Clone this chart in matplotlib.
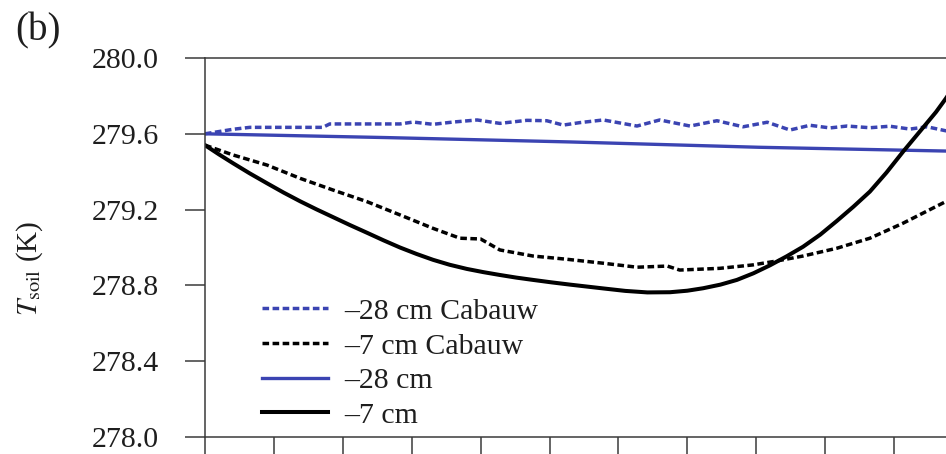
import matplotlib
matplotlib.use("Agg")
import matplotlib.pyplot as plt

# Soil temperature at two depths: model vs. Cabauw observations
x_obs28 = [0.0, 0.41, 0.65, 1.0, 1.71, 1.81, 2.3, 2.83, 3.02, 3.31, 3.60, 3.95,
           4.28, 4.67, 4.96, 5.20, 5.44, 5.78, 6.27, 6.60, 7.04, 7.43, 7.81,
           8.16, 8.49, 8.78, 9.07, 9.32, 9.65, 9.94, 10.23, 10.48, 10.75, 11.0]
t_obs28 = [279.600, 279.624, 279.634, 279.634, 279.634, 279.652, 279.652,
           279.652, 279.662, 279.650, 279.662, 279.673, 279.655, 279.671,
           279.669, 279.646, 279.659, 279.673, 279.641, 279.673, 279.641,
           279.669, 279.637, 279.661, 279.620, 279.645, 279.631, 279.641,
           279.632, 279.640, 279.625, 279.637, 279.616, 279.620]

x_obs7 = [0.0, 0.41, 0.90, 1.38, 1.86, 2.35, 2.83, 3.31, 3.70, 4.00, 4.28,
          4.76, 5.25, 5.78, 6.27, 6.71, 6.89, 7.47, 7.95, 8.30, 8.68, 9.17,
          9.65, 10.13, 10.75, 11.0]
t_obs7 = [279.540, 279.488, 279.435, 279.365, 279.303, 279.242, 279.172,
          279.101, 279.049, 279.045, 278.987, 278.955, 278.938, 278.917,
          278.896, 278.902, 278.881, 278.890, 278.908, 278.929, 278.955,
          278.996, 279.049, 279.128, 279.242, 279.300]

x_mod28 = [0.0, 2.64, 5.30, 8.03, 10.75, 11.0]
t_mod28 = [279.600, 279.580, 279.557, 279.529, 279.509, 279.507]

x_mod7 = [0.0, 0.20, 0.41, 0.65, 0.90, 1.14, 1.38, 1.62, 1.86, 2.10, 2.35,
          2.59, 2.83, 3.07, 3.31, 3.55, 3.80, 4.04, 4.28, 4.52, 4.76, 5.03,
          5.30, 5.54, 5.78, 6.10, 6.42, 6.75, 7.00, 7.23, 7.48, 7.72, 7.96,
          8.20, 8.44, 8.68, 8.93, 9.17, 9.41, 9.65, 9.89, 10.13, 10.37,
          10.61, 10.75, 11.0]
t_mod7 = [279.540, 279.492, 279.444, 279.391, 279.339, 279.290, 279.244,
          279.201, 279.160, 279.119, 279.078, 279.038, 279.000, 278.966,
          278.935, 278.909, 278.887, 278.870, 278.855, 278.841, 278.829,
          278.816, 278.804, 278.794, 278.784, 278.771, 278.763, 278.764,
          278.772, 278.785, 278.804, 278.829, 278.864, 278.906, 278.953,
          279.004, 279.068, 279.140, 279.215, 279.295, 279.395, 279.505,
          279.610, 279.715, 279.785, 279.920]

y_ticks = [278.0, 278.4, 278.8, 279.2, 279.6, 280.0]
x_ticks = list(range(0, 13))

labels = ["\u201328 cm Cabauw", "\u20137 cm Cabauw", "\u201328 cm", "\u20137 cm"]

BLUE = "#3b44b2"
AXC = "#3a3a3a"
TXT = "#1e1e1e"

plt.rcParams["font.family"] = ["Liberation Serif", "DejaVu Serif"]
plt.rcParams["mathtext.fontset"] = "stix"

W, H, DPI = 946, 454, 100
fig = plt.figure(figsize=(W / DPI, H / DPI), dpi=DPI)

px_per_unit = 68.9
left, top, bottom = 205, 58, 437
ax = fig.add_axes([left / W, (H - bottom) / H, 12 * px_per_unit / W, (bottom - top) / H])

ax.plot(x_obs28, t_obs28, color=BLUE, lw=2.5, ls=(0, (1.9, 1.0)), label=labels[0])
ax.plot(x_obs7, t_obs7, color="black", lw=2.5, ls=(0, (1.9, 1.0)), label=labels[1])
ax.plot(x_mod28, t_mod28, color=BLUE, lw=2.4, label=labels[2])
ax.plot(x_mod7, t_mod7, color="black", lw=2.9, label=labels[3])

ax.set_xlim(0, 12)
ax.set_ylim(278.0, 280.0)
ax.set_yticks(y_ticks)
ax.set_yticklabels([f"{v:.1f}" for v in y_ticks])
ax.set_xticks(x_ticks)
ax.set_xticklabels([])

for s in ax.spines.values():
    s.set_color(AXC)
    s.set_linewidth(1.1)

ax.tick_params(axis="both", direction="out", length=14.4, width=1.1, color=AXC)
ax.tick_params(axis="y", labelsize=21.5, pad=19, labelcolor=TXT)

leg = ax.legend(loc="upper left", bbox_to_anchor=(262 / W, 1 - 298 / H),
                bbox_transform=fig.transFigure, frameon=False, fontsize=21.5,
                handlelength=2.2, handletextpad=0.55, labelspacing=0.26,
                borderpad=0, borderaxespad=0)
for t in leg.get_texts():
    t.set_color(TXT)

fig.text(30 / W, 1 - 268 / H, r"$T_{\mathrm{soil}}$ (K)", rotation=90,
         ha="center", va="center", fontsize=21, color=TXT)
fig.text(38 / W, 1 - 31 / H, "(b)", ha="center", va="center", fontsize=28,
         color=TXT)

fig.savefig("out.png", dpi=DPI)
